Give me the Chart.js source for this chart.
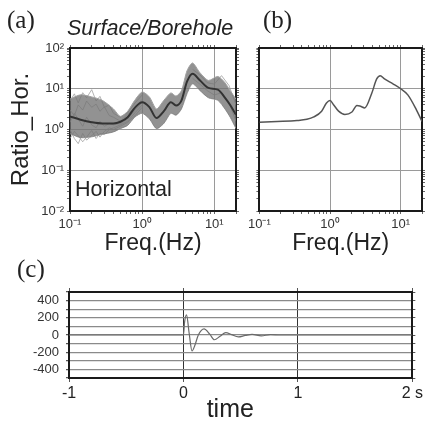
<!DOCTYPE html>
<html lang="en">
<head>
<meta charset="UTF-8" />
<title>Surface/Borehole spectral ratio</title>
<script src="https://cdn.jsdelivr.net/npm/chart.js"></script>
<style>
  body {
    margin: 0;
    width: 425px;
    height: 423px;
    position: relative;
    overflow: hidden;
    background: #fff;
    color: #222;
    font-family: "Liberation Sans", Arial, sans-serif;
  }
  canvas { position: absolute; }
  .lbl { position: absolute; white-space: nowrap; }
  .panel { font-family: "Liberation Serif", "Times New Roman", serif; font-size: 25px; line-height: 25px; }
</style>
</head>
<body>
<canvas id="chartA" width="245" height="255" style="left:0;top:0"></canvas>
<canvas id="chartB" width="180" height="255" style="left:245px;top:0"></canvas>
<canvas id="chartC" width="425" height="168" style="left:0;top:255px"></canvas>

<div class="lbl panel" style="left:7px;top:7px">(a)</div>
<div class="lbl panel" style="left:263px;top:7px">(b)</div>
<div class="lbl panel" style="left:17px;top:256px">(c)</div>
<div class="lbl" style="left:67px;top:18px;font-size:21.5px;line-height:21.5px;font-style:italic">Surface/Borehole</div>
<div class="lbl" style="left:75px;top:179px;font-size:21.5px;line-height:21.5px">Horizontal</div>

<script>
// (a) spectral ratios: band of single events + mean curve
const freqA  = [0.1, 0.14, 0.2, 0.28, 0.4, 0.5, 0.63, 0.79, 1.0, 1.26, 1.58, 2.0, 2.5, 2.95, 3.5, 4.2, 5.0, 6.3, 8.3, 11.2, 14.1, 16.6, 20];
const meanA  = [2.09, 1.74, 1.51, 1.41, 1.41, 1.55, 2.0, 3.39, 4.68, 3.55, 1.91, 2.82, 4.68, 3.89, 5.13, 15.1, 23.4, 16.2, 10.5, 9.5, 6.0, 4.0, 2.3];
const upperA = [5.6, 7.1, 6.3, 5.2, 3.2, 2.1, 2.8, 5.2, 8.3, 6.3, 3.2, 5.2, 7.9, 6.6, 8.9, 28, 43, 25, 16, 20, 14, 8.9, 5.6];
const lowerA = [0.79, 0.63, 0.66, 0.76, 0.87, 1.05, 1.26, 2.0, 2.5, 1.82, 1.05, 1.41, 2.5, 2.24, 3.16, 7.6, 13.2, 9.1, 6.0, 5.2, 3.16, 2.0, 1.05];

// a few single-event traces that stick out of the band
const freqT  = [0.1, 0.115, 0.13, 0.15, 0.17, 0.2, 0.23, 0.26, 0.3, 0.35, 0.4, 0.5, 0.63, 0.8, 1.0];
const traceT1 = [5.0, 7.5, 4.5, 8.0, 6.0, 9.5, 5.0, 6.5, 3.5, 4.0, 2.5, 2.0, 2.6, 4.5, 7.0];
const traceT2 = [1.0, 0.6, 0.45, 0.8, 0.55, 0.7, 0.9, 0.65, 0.9, 1.1, 1.0, 1.2, 1.5, 2.2, 3.5];
const traceT3 = [3.0, 2.2, 4.0, 3.0, 5.0, 3.5, 4.2, 2.8, 3.6, 2.2, 2.0, 1.6, 2.4, 3.5, 5.5];
const traceT4 = [1.5, 2.5, 1.8, 1.2, 2.0, 1.3, 1.1, 1.6, 1.2, 1.4, 1.3, 1.4, 1.8, 3.0, 4.5];
const traceT5 = [0.6, 0.9, 0.7, 0.5, 0.65, 0.95, 0.6, 0.8, 0.75, 1.0, 1.1, 1.3, 1.6, 2.6, 4.0];
const freqR  = [5, 6.3, 8, 10, 12.6, 16, 20];
const traceR1 = [30, 22, 14, 13, 21, 12, 4.0];
const traceR2 = [18, 13, 9, 7, 8, 4.5, 1.6];

// (b) model transfer function
const freqB  = [0.1, 0.178, 0.34, 0.47, 0.59, 0.76, 0.89, 1.0, 1.12, 1.32, 1.62, 2.04, 2.4, 2.69, 3.09, 3.89, 4.57, 5.13, 5.89, 7.76, 10, 12.6, 16.6, 20];
const ratioB = [1.51, 1.57, 1.66, 1.78, 2.04, 2.82, 4.47, 5.13, 4.07, 2.82, 2.34, 2.69, 3.89, 3.72, 3.39, 7.76, 17.4, 20.9, 17.4, 13.2, 10.0, 7.08, 3.09, 1.58];

// (c) impulse response
const timeC = [-1, 0, 0.01, 0.027, 0.05, 0.075, 0.1, 0.13, 0.18, 0.23, 0.27, 0.32, 0.37, 0.42, 0.48, 0.54, 0.6, 0.68, 0.76, 0.85, 2];
const ampC  = [0, 0, 150, 235, 20, -185, -120, 0, 72, 10, -55, -15, 28, 5, -22, -5, 8, -10, 5, 0, 0];

Chart.defaults.font.family = '"Liberation Sans", Arial, sans-serif';
Chart.defaults.color = '#333';

const pts = (xs, ys) => xs.map((x, i) => ({ x, y: ys[i] }));
const sup = { '-': '⁻', '0': '⁰', '1': '¹', '2': '²' };
const isDecade = v => Math.abs(Math.log10(v) - Math.round(Math.log10(v))) < 1e-6;
const decadeLabel = v => isDecade(v)
  ? '10' + String(Math.round(Math.log10(v))).split('').map(c => sup[c]).join('')
  : '';

// 1..9 x 10^n between min and max
function logTicks(min, max) {
  const out = [];
  for (let e = Math.floor(Math.log10(min)); e <= Math.ceil(Math.log10(max)); e++) {
    for (let k = 1; k <= 9; k++) {
      const v = +(k * Math.pow(10, e)).toPrecision(6);
      if (v >= min - 1e-9 && v <= max + 1e-9) out.push(v);
    }
  }
  if (out[out.length - 1] < max) out.push(max);
  return out.map(value => ({ value }));
}

const frame = { display: true, color: '#1a1a1a', width: 2 };

function logAxis(pos, min, max, size, labels, title) {
  const horiz = pos === 'top' || pos === 'bottom';
  return {
    type: 'logarithmic',
    position: pos,
    min, max,
    afterBuildTicks: s => { s.ticks = logTicks(min, max); },
    afterFit: s => { if (horiz) s.height = size; else s.width = size; },
    border: frame,
    grid: {
      drawOnChartArea: pos === 'bottom' || pos === 'left',
      color: ctx => (ctx.tick && isDecade(ctx.tick.value)) ? '#9a9a9a' : 'rgba(0,0,0,0)',
      lineWidth: 1,
      tickColor: '#666',
      tickLength: 3
    },
    ticks: {
      display: labels,
      autoSkip: false,
      maxRotation: 0,
      padding: 3,
      color: '#333',
      font: { size: 13 },
      callback: decadeLabel
    },
    title: title || { display: false }
  };
}

const freqTitle = {
  display: true, text: 'Freq.(Hz)', color: '#222',
  font: { size: 23, lineHeight: 1 }, padding: 0
};

const baseOpts = {
  responsive: false,
  animation: false,
  layout: { padding: 0, autoPadding: false },
  plugins: { legend: { display: false }, tooltip: { enabled: false } },
  elements: { point: { radius: 0 } }
};

// ---- (a)
const gray = '#a0a0a0';
const thinTrace = (xs, ys) => ({ data: pts(xs, ys), borderColor: gray, borderWidth: 0.8, tension: 0, fill: false });

new Chart(document.getElementById('chartA'), {
  type: 'line',
  data: {
    datasets: [
      { data: pts(freqA, meanA), borderColor: '#333', borderWidth: 2, cubicInterpolationMode: 'monotone', fill: false },
      { data: pts(freqA, upperA), borderColor: gray, borderWidth: 1, tension: 0.25, fill: '+1', backgroundColor: 'rgba(115,115,115,0.78)' },
      { data: pts(freqA, lowerA), borderColor: gray, borderWidth: 1, tension: 0.25, fill: false },
      thinTrace(freqT, traceT1),
      thinTrace(freqT, traceT2),
      thinTrace(freqT, traceT3),
      thinTrace(freqT, traceT4),
      thinTrace(freqT, traceT5),
      thinTrace(freqR, traceR1),
      thinTrace(freqR, traceR2)
    ]
  },
  options: {
    ...baseOpts,
    scales: {
      x: logAxis('bottom', 0.1, 20, 44, true, freqTitle),
      x2: logAxis('top', 0.1, 20, 48, false),
      y: logAxis('left', 0.01, 100, 70, true, {
        display: true, text: 'Ratio_Hor.', color: '#222',
        font: { size: 24, lineHeight: 1 }, padding: { top: 9, bottom: 0 }
      }),
      y2: logAxis('right', 0.01, 100, 9, false)
    }
  }
});

// ---- (b)
new Chart(document.getElementById('chartB'), {
  type: 'line',
  data: {
    datasets: [
      { data: pts(freqB, ratioB), borderColor: '#555', borderWidth: 1.5, cubicInterpolationMode: 'monotone', fill: false }
    ]
  },
  options: {
    ...baseOpts,
    scales: {
      x: logAxis('bottom', 0.1, 20, 44, true, freqTitle),
      x2: logAxis('top', 0.1, 20, 48, false),
      y: logAxis('left', 0.01, 100, 12, false),
      y2: logAxis('right', 0.01, 100, 3, false)
    }
  }
});

// ---- (c)
const hLine = v => (Math.abs(v) >= 500 ? 'rgba(0,0,0,0)' : '#8a8a8a');
new Chart(document.getElementById('chartC'), {
  type: 'line',
  data: {
    datasets: [
      { data: pts(timeC, ampC), borderColor: '#6a6a6a', borderWidth: 1.2, cubicInterpolationMode: 'monotone', fill: false }
    ]
  },
  options: {
    ...baseOpts,
    scales: {
      x: {
        type: 'linear', position: 'bottom', min: -1, max: 2,
        afterFit: s => { s.height = 45; },
        border: frame,
        grid: { color: c => (c.tick && (c.tick.value === 0 || c.tick.value === 1)) ? '#333' : 'rgba(0,0,0,0)', tickColor: '#555', tickLength: 4 },
        ticks: { stepSize: 1, padding: 2, color: '#222', font: { size: 16 }, callback: v => (v === 2 ? '2 s' : String(v)) },
        // trailing spaces nudge the centred title left, as in the figure
        title: { display: true, text: 'time\u00a0\u00a0\u00a0', color: '#222', font: { size: 25, lineHeight: 1 }, padding: 0 }
      },
      x2: {
        type: 'linear', position: 'top', min: -1, max: 2,
        afterFit: s => { s.height = 37; },
        border: frame,
        grid: { drawOnChartArea: false, tickColor: '#555', tickLength: 4 },
        ticks: { display: false, stepSize: 1 }
      },
      y: {
        type: 'linear', position: 'left', min: -500, max: 500,
        afterFit: s => { s.width = 69; },
        border: frame,
        grid: { color: c => (c.tick ? hLine(c.tick.value) : '#8a8a8a'), lineWidth: 1.2, tickColor: '#555', tickLength: 3 },
        ticks: {
          stepSize: 100, autoSkip: false, padding: 7, color: '#333', font: { size: 13 },
          callback: v => (v % 200 === 0 && Math.abs(v) < 500 ? String(v) : '')
        }
      },
      y2: {
        type: 'linear', position: 'right', min: -500, max: 500,
        afterFit: s => { s.width = 9; },
        border: frame,
        grid: { drawOnChartArea: false, tickColor: '#555', tickLength: 3 },
        ticks: { display: false, stepSize: 100 }
      }
    }
  }
});
</script>
</body>
</html>
